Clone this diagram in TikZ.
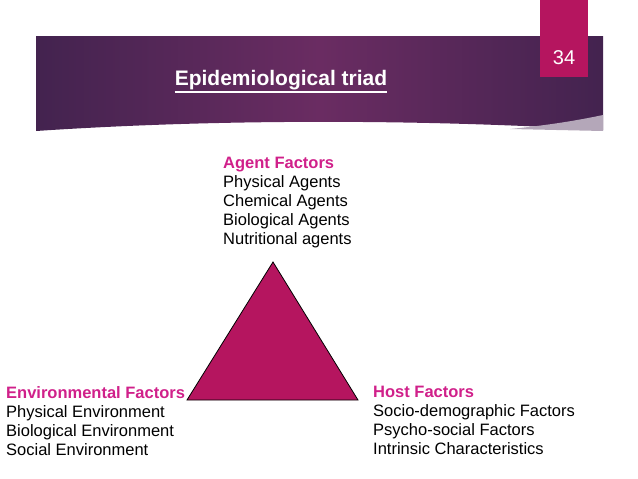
\documentclass[tikz,border=0pt]{standalone}
\usepackage{fontspec}
\setmainfont{Liberation Sans}
\definecolor{banner}{HTML}{43234F}
\definecolor{bannermid}{HTML}{6A2C62}
\definecolor{tabpink}{HTML}{B5155F}
\definecolor{headpink}{HTML}{D0208A}
\tikzset{
  factors/.style={anchor=north west, align=left, inner sep=0pt,
    font=\fontsize{16.5}{19}\selectfont},
  head/.style={text=headpink, font=\bfseries}
}
\begin{document}
\begin{tikzpicture}[x=1pt,y=-1pt]
        \useasboundingbox (0,0) rectangle (638,479);
        % banner
        \shade[left color=banner, right color=banner, middle color=bannermid]
          (36,36) -- (603,36) -- (603,130) .. controls (400,118) and (200,120) .. (36,131) -- cycle;
        \fill[white!60!banner] (603,115) .. controls (570,122) and (540,126) .. (510,129) -- (603,131) -- cycle;
        \fill[tabpink] (540,0) rectangle (588,77);
        \node[text=white, font=\fontsize{20}{22}\selectfont] (num) at (564,58) {34};
        \node[text=white, font=\fontsize{21}{24}\selectfont\bfseries, inner sep=0pt] (title) at (281,80) {Epidemiological triad};
        \draw[white, line width=1.3pt] (title.south west) ++(0,2) -- ([yshift=-2pt]title.south east);
        % triangle
        \draw[fill=tabpink, thick] (273,262) -- (187,400) -- (358,400) -- cycle;
        % text
        \node[factors] (agent) at (223,157) {{\color{headpink}\bfseries Agent Factors}\\Physical Agents\\Chemical Agents\\Biological Agents\\Nutritional agents};
        \node[factors] (env) at (6,386) {{\color{headpink}\bfseries Environmental Factors}\\Physical Environment\\Biological Environment\\Social Environment};
        \node[factors] (host) at (373,386) {{\color{headpink}\bfseries Host Factors}\\Socio-demographic Factors\\Psycho-social Factors\\Intrinsic Characteristics};
\end{tikzpicture}
\end{document}
